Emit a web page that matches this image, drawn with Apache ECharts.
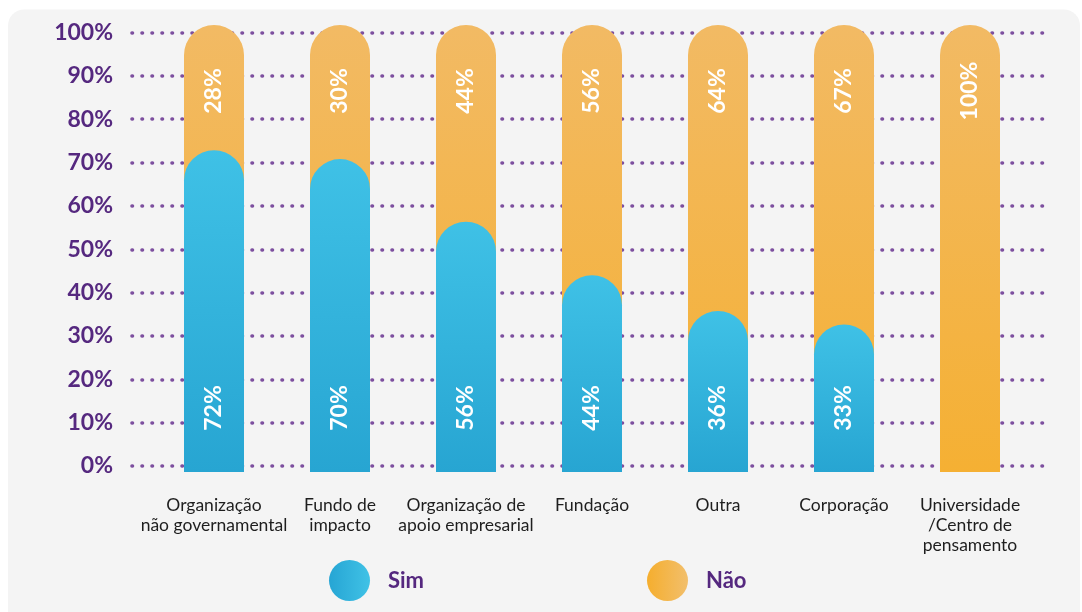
<!DOCTYPE html>
<html>
<head>
<meta charset="utf-8">
<script src="https://cdn.jsdelivr.net/npm/echarts@6/dist/echarts.min.js"></script>
<style>
html,body{margin:0;padding:0;background:#ffffff;}
#chart{width:1082px;height:612px;}
</style>
</head>
<body>
<div id="chart"></div>
<script>
const categories = ['Organização\nnão governamental','Fundo de\nimpacto','Organização de\napoio empresarial','Fundação','Outra','Corporação','Universidade\n/Centro de\npensamento'];
const simValues = [72, 70, 56, 44, 36, 33, 0];
const naoValues = [28, 30, 44, 56, 64, 67, 100];
const yTicks = [0, 10, 20, 30, 40, 50, 60, 70, 80, 90, 100];

const FONT = 'Lato';
const PURPLE = '#55287f';
const blueGrad = new echarts.graphic.LinearGradient(0,0,0,1,[{offset:0,color:'#3fc1e6'},{offset:1,color:'#27a5d2'}]);
const orangeGrad = new echarts.graphic.LinearGradient(0,0,0,1,[{offset:0,color:'#f2ba64'},{offset:1,color:'#f5b033'}]);
const blueLegend = new echarts.graphic.LinearGradient(0,0,1,0,[{offset:0,color:'#26a5d4'},{offset:1,color:'#40c2e6'}]);
const orangeLegend = new echarts.graphic.LinearGradient(0,0,1,0,[{offset:0,color:'#f5ae2e'},{offset:1,color:'#f2bf6c'}]);

const chart = echarts.init(document.getElementById('chart'), null, {renderer:'canvas'});
chart.setOption({
  animation:false,
  backgroundColor:'transparent',
  graphic:[{type:'rect', z:-10, silent:true, shape:{x:8,y:9.5,width:1072,height:620,r:16}, style:{fill:'#f4f4f4'}}],
  legend:[
    {left:324, top:555, icon:'circle', itemWidth:41, itemHeight:41, selectedMode:false,
     data:[{name:'Sim', itemStyle:{color:blueLegend}}],
     textStyle:{fontFamily:FONT, fontWeight:'bold', fontSize:22, color:PURPLE, padding:[0,0,0,13]}},
    {left:642, top:555, icon:'circle', itemWidth:41, itemHeight:41, selectedMode:false,
     data:[{name:'Não', itemStyle:{color:orangeLegend}}],
     textStyle:{fontFamily:FONT, fontWeight:'bold', fontSize:22, color:PURPLE, padding:[0,0,0,13]}}
  ],
  grid:[
    {left:132, right:30, top:32.5, bottom:146},
    {left:151, right:49, top:25, bottom:140}
  ],
  xAxis:[
    {gridIndex:0, type:'value', show:false, min:0, max:1},
    {gridIndex:1, type:'category', data:categories,
     axisLine:{show:false}, axisTick:{show:false},
     axisLabel:{margin:23, fontFamily:FONT, fontSize:17.5, color:'#1e1e1e', lineHeight:20, interval:0}}
  ],
  yAxis:[
    {gridIndex:0, type:'value', min:0, max:100, interval:10,
     axisLine:{show:false}, axisTick:{show:false},
     axisLabel:{margin:19, fontFamily:FONT, fontWeight:'bold', fontSize:23, color:PURPLE,
       formatter:function(v){return yTicks.indexOf(v)>=0 ? v+'%' : '';}},
     splitLine:{show:true, lineStyle:{color:'#7d4f9f', width:3.6, type:[0.5,9.5], cap:'round'}}},
    {gridIndex:1, type:'value', min:0, max:100, show:false, splitLine:{show:false}}
  ],
  series:[
    {name:'Não', type:'bar', xAxisIndex:1, yAxisIndex:1, barWidth:60, barGap:'-100%',
     data:simValues.map(function(s,i){return s+naoValues[i];}),
     itemStyle:{color:orangeGrad, borderRadius:[30,30,0,0]},
     label:{show:true, position:'insideTop', distance:66, rotate:90, align:'center', verticalAlign:'middle',
       fontFamily:FONT, fontWeight:'bold', fontSize:23, color:'#ffffff',
       formatter:function(p){return naoValues[p.dataIndex]+'%';}}},
    {name:'Sim', type:'bar', xAxisIndex:1, yAxisIndex:1, barWidth:60, barGap:'-100%',
     data:simValues,
     itemStyle:{color:blueGrad, borderRadius:[30,30,0,0]},
     label:{show:true, position:'insideBottom', distance:64, rotate:90, align:'center', verticalAlign:'middle',
       fontFamily:FONT, fontWeight:'bold', fontSize:23, color:'#ffffff',
       formatter:function(p){return simValues[p.dataIndex] ? simValues[p.dataIndex]+'%' : '';}}}
  ]
});
</script>
</body>
</html>
